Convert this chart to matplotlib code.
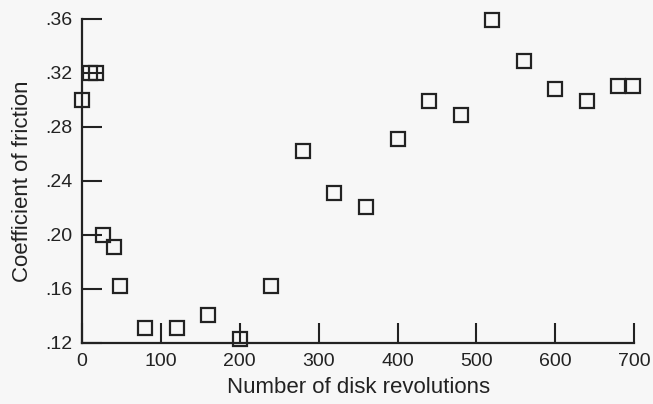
import matplotlib.pyplot as plt
from matplotlib.ticker import FuncFormatter

plt.rcParams['font.family'] = ['Liberation Sans', 'DejaVu Sans']

# disk revolutions vs friction coefficient
revolutions = [0, 10, 18, 26, 40, 48, 80, 120, 160, 200, 240, 280, 320, 360,
               400, 440, 480, 520, 560, 600, 640, 680, 698]
friction = [0.300, 0.320, 0.320, 0.200, 0.191, 0.162, 0.131, 0.131, 0.141,
            0.123, 0.162, 0.262, 0.231, 0.221, 0.271, 0.299, 0.289, 0.359,
            0.329, 0.308, 0.299, 0.310, 0.310]

x_ticks = [0, 100, 200, 300, 400, 500, 600, 700]
y_ticks = [0.12, 0.16, 0.20, 0.24, 0.28, 0.32, 0.36]

ink = '#222222'
fig = plt.figure(figsize=(6.53, 4.04), dpi=100, facecolor='#f7f7f7')
ax = fig.add_axes([0.1256, 0.151, 0.8455, 0.802])
ax.set_facecolor('#f7f7f7')

ax.plot(revolutions, friction, linestyle='none', marker='s', markersize=10.5,
        markerfacecolor='none', markeredgecolor=ink, markeredgewidth=1.6,
        clip_on=False, zorder=3)

ax.set_xlim(0, 700)
ax.set_ylim(0.12, 0.36)
ax.set_xticks(x_ticks)
ax.set_yticks(y_ticks)
ax.yaxis.set_major_formatter(FuncFormatter(lambda v, p: ('%.2f' % v)[1:]))

for s in ['top', 'right']:
    ax.spines[s].set_visible(False)
for s in ['left', 'bottom']:
    ax.spines[s].set_linewidth(1.6)
    ax.spines[s].set_color(ink)

ax.tick_params(direction='in', length=14.5, width=1.5, color=ink,
               labelsize=14, labelcolor=ink)
ax.tick_params(axis='y', pad=7)
ax.tick_params(axis='x', pad=7)

ax.set_xlabel('Number of disk revolutions', fontsize=16, color=ink, labelpad=5)
ax.set_ylabel('Coefficient of friction', fontsize=16, color=ink, labelpad=9)

fig.savefig('out.png', dpi=100, facecolor=fig.get_facecolor())
